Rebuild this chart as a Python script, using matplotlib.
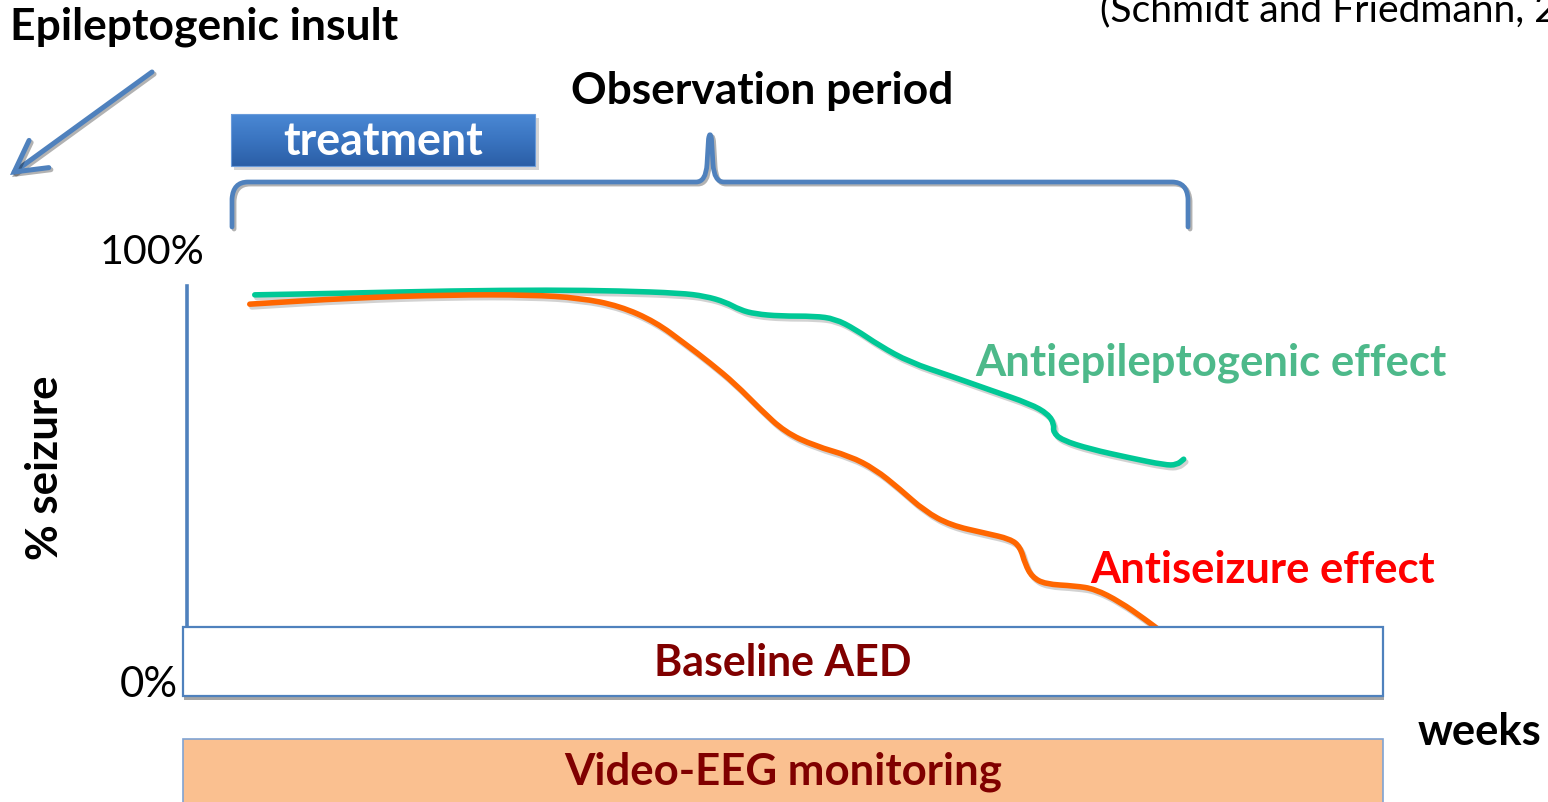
import matplotlib
matplotlib.use("Agg")
import matplotlib.pyplot as plt
import numpy as np
from matplotlib.path import Path
from matplotlib.patches import PathPatch, Rectangle, FancyArrowPatch
from matplotlib.colors import LinearSegmentedColormap
import matplotlib.patheffects as pe

# ---------------- data (weeks, % seizure) ----------------
anti_epi_weeks = [0.68, 1.64, 2.64, 3.64, 4.34, 4.95, 5.20, 5.40, 5.55, 5.70, 5.95, 6.30, 6.50,
                  6.70, 6.95, 7.25, 7.66, 8.06, 8.46, 8.64, 8.70, 8.69, 8.78, 9.06, 9.46, 9.81,
                  9.93, 10.00]
anti_epi_pct = [90.1, 90.5, 91.0, 91.2, 91.0, 90.5, 89.8, 88.5, 86.7, 85.8, 85.3, 85.3, 84.7,
                82.4, 78.6, 74.9, 71.8, 68.6, 65.5, 63.2, 60.9, 59.1, 57.3, 55.3, 53.3, 51.7,
                51.7, 53.0]
anti_sz_weeks = [0.63, 1.64, 2.64, 3.44, 3.94, 4.34, 4.70, 5.00, 5.25, 5.50, 5.75, 6.00, 6.30,
                 6.65, 6.90, 7.15, 7.40, 7.66, 8.01, 8.26, 8.36, 8.41, 8.48, 8.61, 8.91, 9.11,
                 9.36, 9.61, 9.81]
anti_sz_pct = [88.0, 89.4, 90.1, 90.1, 89.4, 87.6, 84.0, 79.0, 74.7, 70.0, 64.3, 59.1, 56.0,
               53.7, 50.8, 46.3, 41.3, 38.1, 36.3, 35.0, 33.2, 29.3, 26.4, 24.8, 24.4, 23.7,
               20.8, 16.9, 13.5]
y_tick_labels = ["100%", "0%"]
series_labels = ["Antiepileptogenic effect", "Antiseizure effect"]

W, H = 1548, 803
fig = plt.figure(figsize=(W / 100, H / 100), dpi=100)
fig.patch.set_facecolor("white")
FONT = "Lato"

# chart axes: x 187..1383 px, y 695(0%)..252(100%) px
ax = fig.add_axes([187 / W, (H - 695) / H, (1383 - 187) / W, (695 - 252) / H])
ax.set_xlim(0, 12)
ax.set_ylim(0, 100)
ax.patch.set_alpha(0)
for s in ["top", "right", "bottom"]:
    ax.spines[s].set_visible(False)
ax.spines["left"].set_bounds(0, 92)
ax.spines["left"].set_color("#4F81BD")
ax.spines["left"].set_linewidth(2.6)
ax.set_xticks([])
ax.set_yticks([])


def smooth_path(xs, ys):
    pts = np.column_stack([xs, ys])
    verts = [pts[0], (pts[0] + pts[1]) / 2]
    codes = [Path.MOVETO, Path.LINETO]
    for i in range(1, len(pts) - 1):
        verts += [pts[i], (pts[i] + pts[i + 1]) / 2]
        codes += [Path.CURVE3, Path.CURVE3]
    verts.append(pts[-1])
    codes.append(Path.LINETO)
    return Path(verts, codes)


shadow = [pe.SimpleLineShadow(offset=(1.5, -2), shadow_color="gray", alpha=0.35), pe.Normal()]
for xs, ys, col in [(anti_epi_weeks, anti_epi_pct, "#00C896"), (anti_sz_weeks, anti_sz_pct, "#FF6600")]:
    ax.add_patch(PathPatch(smooth_path(xs, ys), facecolor="none", edgecolor=col, lw=4.0,
                           capstyle="round", joinstyle="round", path_effects=shadow, zorder=3))

# overlay axes in pixel coordinates for decorations
ov = fig.add_axes([0, 0, 1, 1], zorder=5)
ov.patch.set_alpha(0)
ov.axis("off")

renderer = fig.canvas.get_renderer()


def fit_text(x, y, s, width_px, ha="left", va="center", rotation=0, **kw):
    t = ov.text(x, y, s, fontsize=20, ha=ha, va=va, rotation=rotation, family=FONT, **kw)
    bb = t.get_window_extent(renderer)
    size = bb.height if rotation == 90 else bb.width
    t.set_fontsize(20 * width_px / size)
    return t


# treatment box with gradient
grad = np.linspace(0, 1, 64).reshape(-1, 1)
cm = LinearSegmentedColormap.from_list("tb", ["#4A88D4", "#3A74C0", "#2B5FA6"])
ov.add_patch(Rectangle((234, 119), 305, 52, facecolor="#888888", alpha=0.35, edgecolor="none", zorder=1))
ov.imshow(grad, extent=(231, 535, 167, 115), cmap=cm, aspect="auto", zorder=2)
ov.add_patch(Rectangle((231, 115), 304, 52, facecolor="none", edgecolor="#6A9BDA", lw=0.8, zorder=3))
ov.set_xlim(0, W)
ov.set_ylim(H, 0)

# Epileptogenic insult + arrow
fit_text(10, 27, "Epileptogenic insult", 388, weight="bold", color="black")
ov.add_patch(FancyArrowPatch((152, 73), (10, 176), arrowstyle="->,head_length=1.0,head_width=0.55",
                             mutation_scale=22, color="#4F81BD", lw=3.6, shrinkA=0, shrinkB=0,
                             capstyle="round", joinstyle="miter",
                             path_effects=[pe.SimpleLineShadow(offset=(1.5, -1.5), alpha=0.3), pe.Normal()]))

# citation (cut off at the figure edge as in the reference)
t = fit_text(1100, 10, "(Schmidt and Friedmann,", 425, color="black")
t.set_text("(Schmidt and Friedmann, 2")

# Observation period
fit_text(571, 91, "Observation period", 383, weight="bold", color="black")
fit_text(383, 142, "treatment", 200, ha="center", weight="bold", color="white", zorder=4)

# curly bracket
verts = [(232, 228), (232, 200), (233, 183), (248, 183),
         (696, 183), (706, 183), (707, 165), (708.5, 140), (710, 131), (711.5, 140),
         (713, 165), (714, 183), (724, 183),
         (1172, 183), (1187, 183), (1188, 200), (1188, 228)]
codes = [Path.MOVETO, Path.LINETO, Path.CURVE3, Path.CURVE3,
         Path.LINETO, Path.CURVE3, Path.CURVE3, Path.LINETO, Path.CURVE3, Path.CURVE3,
         Path.LINETO, Path.CURVE3, Path.CURVE3,
         Path.LINETO, Path.CURVE3, Path.CURVE3, Path.LINETO]
ov.add_patch(PathPatch(Path(verts, codes), facecolor="none", edgecolor="#4F81BD", lw=3.4,
                       capstyle="round", joinstyle="round",
                       path_effects=[pe.SimpleLineShadow(offset=(1.5, -1.5), alpha=0.3), pe.Normal()]))

# y labels
fit_text(100, 252, y_tick_labels[0], 105, color="black")
fit_text(120, 685, y_tick_labels[1], 58, color="black")
fit_text(45, 468, "% seizure", 185, ha="center", rotation=90, weight="bold", color="black")

# series labels
fit_text(975, 363, series_labels[0], 472, weight="bold", color="#4DB98A")
fit_text(1090, 570, series_labels[1], 345, weight="bold", color="#FF0000")

# Baseline AED box
ov.add_patch(Rectangle((183, 628), 1200, 69, facecolor="white", edgecolor="#4F81BD", lw=1.6,
                       zorder=6,
                       path_effects=[pe.SimplePatchShadow(offset=(1, -3), alpha=0.5), pe.Normal()]))
fit_text(783, 663, "Baseline AED", 258, ha="center", weight="bold", color="#800000", zorder=7)

# weeks
fit_text(1418, 732, "weeks", 124, weight="bold", color="black")

# Video-EEG box
ov.add_patch(Rectangle((183, 740), 1200, 66, facecolor="#FAC090", edgecolor="#7FA3D3", lw=1.2,
                       zorder=6))
fit_text(783, 772, "Video-EEG monitoring", 438, ha="center", weight="bold", color="#800000", zorder=7)

fig.savefig("out.png", dpi=100)
